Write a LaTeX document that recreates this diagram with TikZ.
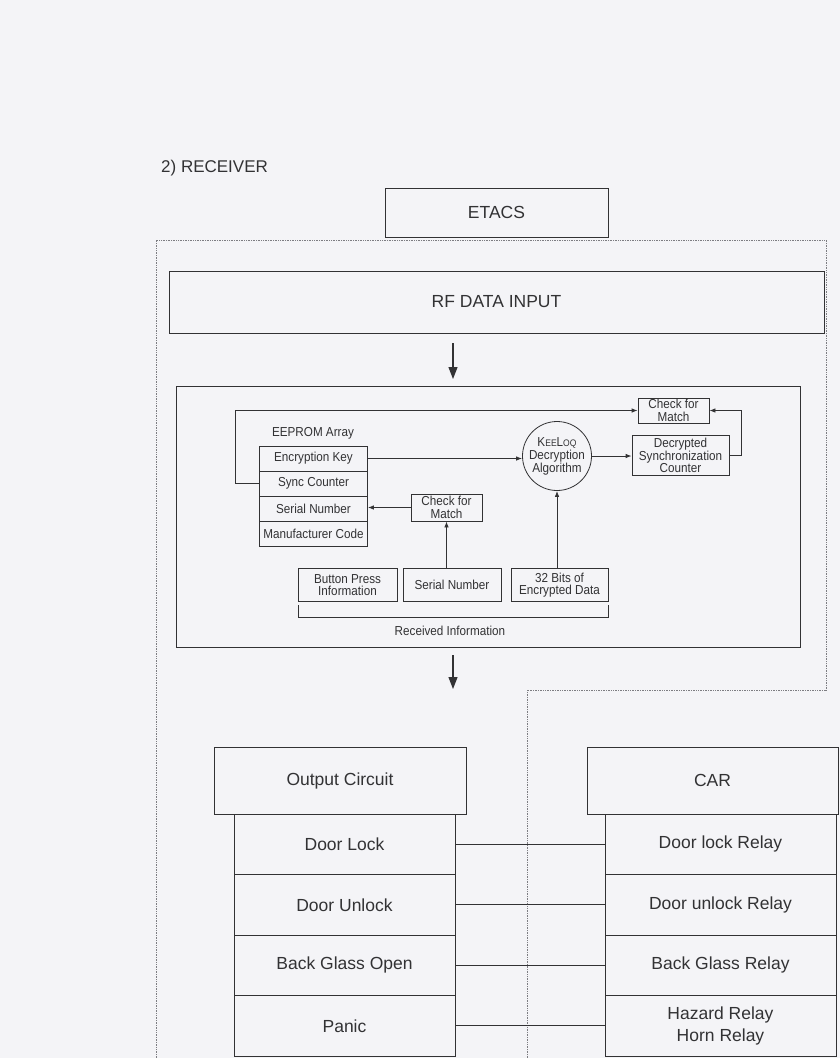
\documentclass[tikz,border=0pt]{standalone}
\usepackage{fontspec}
\setmainfont{Liberation Sans}
\newfontfamily\narrowfont[FakeStretch=0.9]{Liberation Sans}
\usetikzlibrary{arrows.meta}
\definecolor{paper}{RGB}{244,244,247}
\definecolor{ink}{RGB}{50,50,52}
\definecolor{dotc}{RGB}{125,125,130}
\begin{document}
\begin{tikzpicture}[x=1pt,y=-1pt,
 bigbox/.style={draw=ink, line width=1pt, inner sep=0pt, font=\fontsize{17.5}{22}\selectfont, text=ink, align=center},
 smallbox/.style={draw=ink, line width=0.8pt, inner sep=0pt, font=\narrowfont\fontsize{13}{12.5}\selectfont, text=ink, align=center},
 lbl/.style={inner sep=0pt, text=ink, font=\narrowfont\fontsize{13}{12.5}\selectfont},
 arr/.style={draw=ink, line width=0.8pt, -{Latex[length=6pt,width=4.5pt]}},
 bigarr/.style={draw=ink, line width=1.2pt, -{Triangle[length=12pt,width=9pt]}},
 link/.style={draw=ink, line width=1pt},
]
\fill[paper] (0,0) rectangle (840,1058);
\useasboundingbox (0,0) rectangle (840,1058);

% title
\node[anchor=west, inner sep=0pt, text=ink, font=\fontsize{17}{20}\selectfont] (title) at (161,168) {2) RECEIVER};

% dotted ETACS boundary
\draw[dotc, densely dotted, line width=0.7pt] (156,1058) -- (156,240) -- (826,240) -- (826,690) -- (527,690) -- (527,1058);

% ETACS and RF
\node[bigbox, minimum width=223pt, minimum height=49pt] (etacs) at (496.5,212.5) {ETACS};
\node[bigbox, minimum width=655pt, minimum height=62pt] (rf) at (496.5,302) {RF DATA INPUT};

\coordinate (a1s) at (453,343);
\coordinate (a1e) at (453,379);
\draw[bigarr] (a1s) -- (a1e);

% inner KeeLoq diagram
\node[draw=ink, line width=1pt, minimum width=624pt, minimum height=261pt, inner sep=0pt] (inner) at (488,516.5) {};

\node[lbl] (eelab) at (313,433) {EEPROM Array};
\node[smallbox, minimum width=108pt, minimum height=25pt] (e1) at (313.5,458.5) {Encryption Key};
\node[smallbox, minimum width=108pt, minimum height=25pt] (e2) at (313.5,483.5) {Sync Counter};
\node[smallbox, minimum width=108pt, minimum height=25pt] (e3) at (313.5,508.5) {Serial Number};
\node[smallbox, minimum width=108pt, minimum height=25pt] (e4) at (313.5,533.5) {Manufacturer Code};

\node[smallbox, minimum width=71pt, minimum height=25pt] (chk1) at (673.5,410.5) {Check for\\Match};
\node[smallbox, minimum width=97pt, minimum height=40pt, font=\narrowfont\fontsize{13}{12}\selectfont] (dsc) at (680.5,455) {Decrypted\\Synchronization\\Counter};
\node[smallbox, circle, minimum size=69pt, font=\narrowfont\fontsize{13}{13}\selectfont] (kee) at (557,456) {K{\fontsize{9.5}{9}\selectfont EE}L{\fontsize{9.5}{9}\selectfont OQ}\\Decryption\\Algorithm};
\node[smallbox, minimum width=71pt, minimum height=27pt] (chk2) at (446.5,507.5) {Check for\\Match};

\node[smallbox, minimum width=99pt, minimum height=33pt] (b1) at (347.5,585) {Button Press\\Information};
\node[smallbox, minimum width=98pt, minimum height=33pt] (b2) at (452,585) {Serial Number};
\node[smallbox, minimum width=97pt, minimum height=33pt] (b3) at (559.5,585) {32 Bits of\\Encrypted Data};

\draw[arr] (e2.west) -- ++(-24,0) |- (chk1.west);
\draw[arr] (e1.east) -- (e1.east -| kee.west);
\draw[arr] (kee.east) -- (kee.east -| dsc.west);
\draw[arr] (dsc.east) -- ++(12,0) |- (chk1.east);
\draw[arr] (chk2.west) -- (chk2.west -| e3.east);
\draw[arr] (b2.north -| chk2.south) -- (chk2.south);
\draw[arr] (b3.north -| kee.south) -- (kee.south);

\coordinate (brl) at (298,605);
\coordinate (brr) at (608,605);
\draw[ink, line width=0.8pt] (brl) -- (298,617) -- (608,617) -- (brr);
\node[lbl] (recv) at (450,631) {Received Information};

\coordinate (a2s) at (453,655);
\coordinate (a2e) at (453,689);
\draw[bigarr] (a2s) -- (a2e);

% output circuit
\node[bigbox, minimum width=252pt, minimum height=67pt] (oc) at (340,780.5) {Output Circuit};
\node[bigbox, minimum width=221pt, minimum height=60.5pt] (o1) at (344.5,844.25) {Door Lock};
\node[bigbox, minimum width=221pt, minimum height=60.5pt] (o2) at (344.5,904.75) {Door Unlock};
\node[bigbox, minimum width=221pt, minimum height=60.5pt] (o3) at (344.5,965.25) {Back Glass Open};
\node[bigbox, minimum width=221pt, minimum height=60.5pt] (o4) at (344.5,1025.75) {Panic};

% car
\node[bigbox, minimum width=251pt, minimum height=67pt] (car) at (712.5,780.5) {CAR};
\node[bigbox, minimum width=231pt, minimum height=60.5pt] (c1) at (720.5,844.25) {Door lock Relay};
\node[bigbox, minimum width=231pt, minimum height=60.5pt] (c2) at (720.5,904.75) {Door unlock Relay};
\node[bigbox, minimum width=231pt, minimum height=60.5pt] (c3) at (720.5,965.25) {Back Glass Relay};
\node[bigbox, minimum width=231pt, minimum height=60.5pt] (c4) at (720.5,1025.75) {Hazard Relay\\Horn Relay};

\draw[link] (o1.east) -- (c1.west);
\draw[link] (o2.east) -- (c2.west);
\draw[link] (o3.east) -- (c3.west);
\draw[link] (o4.east) -- (c4.west);
\end{tikzpicture}
\end{document}
